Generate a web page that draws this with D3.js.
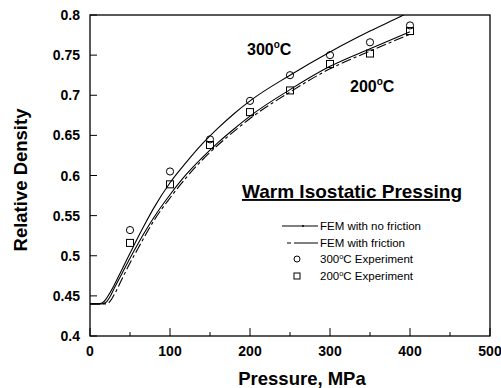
<!DOCTYPE html>
<html>
<head>
<meta charset="utf-8">
<script src="https://cdn.jsdelivr.net/npm/d3@7"></script>
<style>
body { margin: 0; background: #fff; }
svg { font-family: "Liberation Sans", Arial, sans-serif; }
</style>
</head>
<body>
<div id="chart"></div>
<script>
var w = 501;
var h = 388;

// FEM curves, pressure (MPa) vs relative density
var pressureNoFric300 = [0, 10, 15, 20, 25, 30, 40, 50, 60, 70, 80, 100, 120, 140, 160, 180, 200, 250, 300, 350, 390, 400];
var densityNoFric300 = [0.44, 0.44, 0.441, 0.446, 0.454, 0.463, 0.483, 0.503, 0.523, 0.542, 0.560, 0.591, 0.616, 0.639, 0.659, 0.677, 0.693, 0.725, 0.754, 0.780, 0.799, 0.804];

var pressureNoFric200 = [0, 15, 20, 25, 30, 40, 50, 60, 70, 80, 100, 120, 140, 160, 180, 200, 250, 300, 350, 400];
var densityNoFric200 = [0.44, 0.44, 0.442, 0.449, 0.459, 0.478, 0.497, 0.515, 0.532, 0.548, 0.576, 0.601, 0.622, 0.641, 0.658, 0.674, 0.707, 0.736, 0.758, 0.779];

var pressureFric = [0, 20, 25, 30, 40, 50, 60, 70, 80, 100, 120, 140, 160, 180, 200, 250, 300, 350, 400];
var densityFric = [0.44, 0.44, 0.443, 0.451, 0.471, 0.491, 0.509, 0.527, 0.544, 0.572, 0.597, 0.619, 0.638, 0.655, 0.671, 0.704, 0.733, 0.755, 0.776];

// experiments
var expPressure = [50, 100, 150, 200, 250, 300, 350, 400];
var exp300 = [0.532, 0.605, 0.645, 0.693, 0.725, 0.750, 0.766, 0.787];
var exp200 = [0.516, 0.589, 0.638, 0.679, 0.706, 0.739, 0.752, 0.780];

var xTicks = [0, 100, 200, 300, 400, 500];
var xMinor = [50, 150, 250, 350, 450];
var yTicks = [0.4, 0.45, 0.5, 0.55, 0.6, 0.65, 0.7, 0.75, 0.8];

var legendLabels = ["FEM with no friction", "FEM with friction", "300", "200"];

var margin = {left: 90, right: 11, top: 15, bottom: 52};
var x = d3.scaleLinear().domain([0, 500]).range([margin.left, w - margin.right]);
var y = d3.scaleLinear().domain([0.4, 0.8]).range([h - margin.bottom, margin.top]);

var svg = d3.select("#chart")
    .append("svg")
    .attr("width", w)
    .attr("height", h);

svg.append("clipPath")
    .attr("id", "plot")
    .append("rect")
    .attr("x", x(0))
    .attr("y", y(0.8))
    .attr("width", x(500) - x(0))
    .attr("height", y(0.4) - y(0.8));

// frame
svg.append("rect")
    .attr("x", x(0))
    .attr("y", y(0.8))
    .attr("width", x(500) - x(0))
    .attr("height", y(0.4) - y(0.8))
    .style("fill", "none")
    .style("stroke", "black")
    .style("stroke-width", 1.3);

// x axis ticks (inward)
var xAxis = svg.append("g").attr("transform", "translate(0," + y(0.4) + ")");
xAxis.selectAll("line.major")
    .data(xTicks)
    .enter()
    .append("line")
    .attr("x1", function(d) { return x(d); })
    .attr("x2", function(d) { return x(d); })
    .attr("y1", 0)
    .attr("y2", -8)
    .style("stroke", "black");
xAxis.selectAll("line.minor")
    .data(xMinor)
    .enter()
    .append("line")
    .attr("x1", function(d) { return x(d); })
    .attr("x2", function(d) { return x(d); })
    .attr("y1", 0)
    .attr("y2", -4)
    .style("stroke", "black");
xAxis.selectAll("text")
    .data(xTicks)
    .enter()
    .append("text")
    .attr("x", function(d) { return x(d); })
    .attr("y", 19.5)
    .attr("text-anchor", "middle")
    .style("font-size", "14px")
    .style("font-weight", "bold")
    .text(function(d) { return d; });

// y axis ticks (inward)
var yAxis = svg.append("g").attr("transform", "translate(" + x(0) + ",0)");
yAxis.selectAll("line")
    .data(yTicks)
    .enter()
    .append("line")
    .attr("x1", 0)
    .attr("x2", 7)
    .attr("y1", function(d) { return y(d); })
    .attr("y2", function(d) { return y(d); })
    .style("stroke", "black");
yAxis.selectAll("text")
    .data(yTicks)
    .enter()
    .append("text")
    .attr("x", -10)
    .attr("y", function(d) { return y(d) + 5; })
    .attr("text-anchor", "end")
    .style("font-size", "14px")
    .style("font-weight", "bold")
    .text(function(d) { return d3.format("")(d); });

// axis titles
svg.append("text")
    .attr("x", 302)
    .attr("y", 385)
    .attr("text-anchor", "middle")
    .style("font-size", "18.5px")
    .style("font-weight", "bold")
    .text("Pressure, MPa");

svg.append("text")
    .attr("transform", "translate(27,180) rotate(-90)")
    .attr("text-anchor", "middle")
    .style("font-size", "18.5px")
    .style("font-weight", "bold")
    .text("Relative Density");

// curves
var line = d3.line()
    .x(function(d) { return x(d[0]); })
    .y(function(d) { return y(d[1]); })
    .curve(d3.curveMonotoneX);

var curves = svg.append("g").attr("clip-path", "url(#plot)");

curves.append("path")
    .attr("d", line(d3.zip(pressureNoFric300, densityNoFric300)))
    .style("fill", "none")
    .style("stroke", "black")
    .style("stroke-width", 1.1);

curves.append("path")
    .attr("d", line(d3.zip(pressureNoFric200, densityNoFric200)))
    .style("fill", "none")
    .style("stroke", "black")
    .style("stroke-width", 1.1);

curves.append("path")
    .attr("d", line(d3.zip(pressureFric, densityFric)))
    .style("fill", "none")
    .style("stroke", "black")
    .style("stroke-width", 1.1)
    .style("stroke-dasharray", "10,3,3,3");

// markers
svg.selectAll("circle.exp300")
    .data(d3.zip(expPressure, exp300))
    .enter()
    .append("circle")
    .attr("cx", function(d) { return x(d[0]); })
    .attr("cy", function(d) { return y(d[1]); })
    .attr("r", 3.6)
    .style("fill", "none")
    .style("stroke", "black");

svg.selectAll("rect.exp200")
    .data(d3.zip(expPressure, exp200))
    .enter()
    .append("rect")
    .attr("x", function(d) { return x(d[0]) - 3.5; })
    .attr("y", function(d) { return y(d[1]) - 3.5; })
    .attr("width", 7)
    .attr("height", 7)
    .style("fill", "none")
    .style("stroke", "black");

// temperature labels
function tempLabel(t, px, py) {
    var txt = svg.append("text")
        .attr("x", px)
        .attr("y", py)
        .style("font-size", "16px")
        .style("font-weight", "bold");
    txt.append("tspan").text(t);
    txt.append("tspan").attr("dy", -7).style("font-size", "10px").text("o");
    txt.append("tspan").attr("dy", 7).text("C");
}
tempLabel("300", 247, 55);
tempLabel("200", 350, 92);

// title in plot
svg.append("text")
    .attr("x", 242)
    .attr("y", 198)
    .style("font-size", "19px")
    .style("font-weight", "bold")
    .style("text-decoration", "underline")
    .text("Warm Isostatic Pressing");

// legend
var legY = [226, 243, 259, 276];
var lg = svg.append("g");
lg.append("line")
    .attr("x1", 282).attr("x2", 318)
    .attr("y1", legY[0]).attr("y2", legY[0])
    .style("stroke", "black");
lg.append("circle")
    .attr("cx", 303).attr("cy", legY[0]).attr("r", 1)
    .style("fill", "black");
lg.append("line")
    .attr("x1", 287).attr("x2", 291)
    .attr("y1", legY[1]).attr("y2", legY[1])
    .style("stroke", "black");
lg.append("line")
    .attr("x1", 294).attr("x2", 318)
    .attr("y1", legY[1]).attr("y2", legY[1])
    .style("stroke", "black");
lg.append("circle")
    .attr("cx", 297).attr("cy", legY[2]).attr("r", 3)
    .style("fill", "none")
    .style("stroke", "black");
lg.append("rect")
    .attr("x", 294).attr("y", legY[3] - 3).attr("width", 6).attr("height", 6)
    .style("fill", "none")
    .style("stroke", "black");

lg.selectAll("text")
    .data(legendLabels)
    .enter()
    .append("text")
    .attr("x", 320)
    .attr("y", function(d, i) { return legY[i] + 4; })
    .style("font-size", "11.5px")
    .each(function(d, i) {
        var t = d3.select(this);
        if (i < 2) {
            t.text(d);
        } else {
            t.append("tspan").text(d);
            t.append("tspan").attr("dy", -4).style("font-size", "7.5px").text("o");
            t.append("tspan").attr("dy", 4).text("C Experiment");
        }
    });
</script>
</body>
</html>
